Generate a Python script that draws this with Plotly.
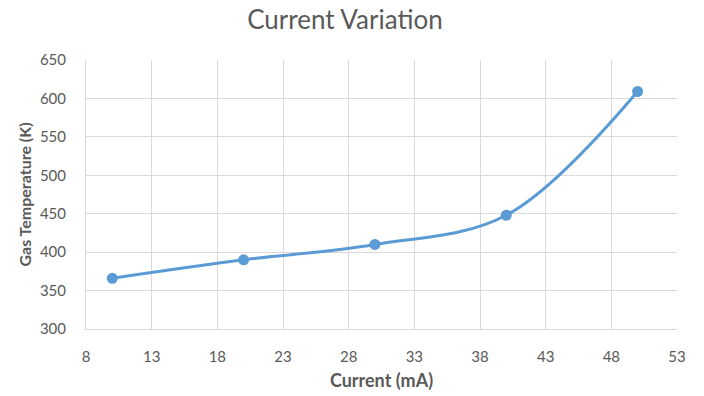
import plotly.graph_objects as go

current_ma = [10, 20, 30, 40, 50]
gas_temp_k = [366, 390, 410, 448, 609]

x_ticks = [8, 13, 18, 23, 28, 33, 38, 43, 48, 53]
y_ticks = [300, 350, 400, 450, 500, 550, 600, 650]

blue = "#5B9BD5"
grid = "#D9D9D9"
text_col = "#595959"
font_family = "Lato, 'Open Sans', sans-serif"

fig = go.Figure()
fig.add_trace(go.Scatter(
    x=current_ma, y=gas_temp_k, mode="lines+markers",
    line=dict(color=blue, width=3, shape="spline", smoothing=1),
    marker=dict(color=blue, size=11),
    showlegend=False,
))

fig.update_layout(
    width=704, height=396,
    margin=dict(l=86, r=27, t=60, b=67),
    paper_bgcolor="white", plot_bgcolor="white",
    title=dict(text="Current Variation", x=0.49, xanchor="center", y=0.95, yanchor="middle",
               font=dict(family=font_family, size=26, color=text_col)),
    font=dict(family=font_family, color=text_col),
    xaxis=dict(
        range=[8, 53], tickvals=x_ticks, ticktext=[str(v) for v in x_ticks],
        showgrid=True, gridcolor=grid, gridwidth=1,
        showline=True, linecolor=grid, linewidth=1, mirror=False,
        zeroline=False, ticks="", tickfont=dict(size=15, color=text_col),
        ticklabelstandoff=14, automargin=False,
        title=dict(text="<b>Current (mA)</b>", font=dict(size=18, color=text_col), standoff=10),
    ),
    yaxis=dict(
        range=[300, 650], tickvals=y_ticks, ticktext=[str(v) for v in y_ticks],
        showgrid=True, gridcolor=grid, gridwidth=1,
        showline=True, linecolor=grid, linewidth=1,
        zeroline=False, ticks="", tickfont=dict(size=15, color=text_col),
        ticklabelstandoff=16, automargin=False,
        title=dict(text="<b>Gas Temperature (K)</b>", font=dict(size=16, color=text_col), standoff=4),
    ),
)

fig.write_html("out.html")
